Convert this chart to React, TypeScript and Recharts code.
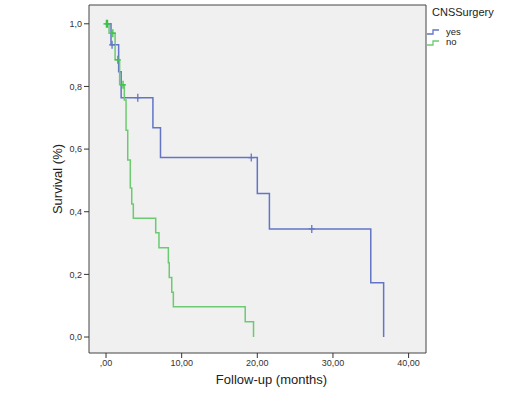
import {
  ComposedChart,
  Line,
  Scatter,
  XAxis,
  YAxis,
  ReferenceArea,
} from "recharts";

// Kaplan-Meier steps (months, survival)
const yesCurve = [
  { t: 0, s: 1.0 },
  { t: 0.66, s: 0.933 },
  { t: 1.67, s: 0.847 },
  { t: 2.0, s: 0.764 },
  { t: 6.2, s: 0.668 },
  { t: 7.2, s: 0.573 },
  { t: 20.0, s: 0.458 },
  { t: 21.6, s: 0.345 },
  { t: 35.0, s: 0.173 },
  { t: 36.7, s: 0.0 },
];

const noCurve = [
  { t: 0, s: 1.0 },
  { t: 0.4, s: 0.97 },
  { t: 1.2, s: 0.885 },
  { t: 1.8, s: 0.805 },
  { t: 2.42, s: 0.757 },
  { t: 2.65, s: 0.66 },
  { t: 2.87, s: 0.565 },
  { t: 3.21, s: 0.476 },
  { t: 3.4, s: 0.425 },
  { t: 3.61, s: 0.379 },
  { t: 6.57, s: 0.333 },
  { t: 7.0, s: 0.285 },
  { t: 8.24, s: 0.237 },
  { t: 8.36, s: 0.19 },
  { t: 8.69, s: 0.143 },
  { t: 8.9, s: 0.097 },
  { t: 18.4, s: 0.049 },
  { t: 19.5, s: 0.0 },
];

// censored cases (+ marks)
const yesCensored = [
  { t: 0.8, s: 0.933 },
  { t: 4.2, s: 0.764 },
  { t: 19.2, s: 0.573 },
  { t: 27.2, s: 0.345 },
];

const noCensored = [
  { t: 0.05, s: 1.0 },
  { t: 0.2, s: 1.0 },
  { t: 0.9, s: 0.97 },
  { t: 1.55, s: 0.885 },
  { t: 2.25, s: 0.805 },
];

const xTicks = [0, 10, 20, 30, 40];
const yTicks = [0, 0.2, 0.4, 0.6, 0.8, 1.0];
const legendTitle = "CNSSurgery";
const groups = [
  { name: "yes", color: "#6275c6" },
  { name: "no", color: "#6ccb70" },
];

const X_MIN = -2.25;
const X_MAX = 42.3;
const Y_MIN = -0.051;
const Y_MAX = 1.06;

const fmtX = (v: number) =>
  v === 0 ? ",00" : v.toFixed(2).replace(".", ",");
const fmtY = (v: number) => v.toFixed(1).replace(".", ",");

// "+" censor mark
function Cross(props: any) {
  const { cx, cy, fill } = props;
  if (cx == null || cy == null) return null;
  return (
    <path
      d={`M${cx - 3},${cy}H${cx + 3}M${cx},${cy - 4}V${cy + 4}`}
      stroke={fill}
      strokeWidth={1.3}
      fill="none"
    />
  );
}

function LegendBox() {
  return (
    <div
      style={{
        position: "absolute",
        left: 432,
        top: 6,
        fontFamily: "Liberation Sans",
        color: "#222",
      }}
    >
      <div style={{ fontSize: 11, lineHeight: "13px", marginBottom: 7 }}>
        {legendTitle}
      </div>
      {groups.map((g) => (
        <div
          key={g.name}
          style={{ display: "flex", alignItems: "center", height: 10.5, marginLeft: -6 }}
        >
          <svg width={14} height={10} style={{ marginRight: 6 }}>
            <path
              d="M1,8H7V4H13"
              stroke={g.color}
              strokeWidth={1.3}
              fill="none"
            />
          </svg>
          <span style={{ fontSize: 9.5 }}>{g.name}</span>
        </div>
      ))}
    </div>
  );
}

export default function App() {
  return (
    <div
      style={{
        position: "absolute",
        left: 0,
        top: 0,
        width: 523,
        height: 407,
        background: "#fff",
      }}
    >
      <ComposedChart
        width={523}
        height={407}
        margin={{ top: 5, right: 97, left: 0, bottom: 0 }}
      >
        <XAxis
          dataKey="t"
          type="number"
          domain={[X_MIN, X_MAX]}
          ticks={xTicks}
          tickFormatter={fmtX}
          allowDataOverflow
          height={54}
          axisLine={false}
          tickSize={5}
          stroke="#333"
          tick={{ fontSize: 9, fill: "#333", fontFamily: "Liberation Sans" }}
          label={{
            value: "Follow-up (months)",
            position: "insideBottom",
            offset: 23,
            dx: 14,
            style: { fontSize: 13, fill: "#222", fontFamily: "Liberation Sans" },
          }}
        />
        <YAxis
          type="number"
          domain={[Y_MIN, Y_MAX]}
          ticks={yTicks}
          tickFormatter={fmtY}
          allowDataOverflow
          width={89}
          axisLine={false}
          tickSize={5}
          stroke="#333"
          tick={{ fontSize: 9, fill: "#333", fontFamily: "Liberation Sans" }}
          label={{
            value: "Survival (%)",
            angle: -90,
            position: "center",
            dx: 13,
            style: { fontSize: 13, fill: "#222", fontFamily: "Liberation Sans" },
          }}
        />
        <ReferenceArea
          x1={X_MIN}
          x2={X_MAX}
          y1={Y_MIN}
          y2={Y_MAX}
          fill="#f0f0f0"
          fillOpacity={1}
          stroke="#444"
          strokeWidth={1}
        />
        <Line
          data={yesCurve}
          dataKey="s"
          name="yes"
          type="stepAfter"
          stroke="#6275c6"
          strokeWidth={1.5}
          dot={false}
          isAnimationActive={false}
        />
        <Line
          data={noCurve}
          dataKey="s"
          name="no"
          type="stepAfter"
          stroke="#6ccb70"
          strokeWidth={1.5}
          dot={false}
          isAnimationActive={false}
        />
        <Scatter
          data={yesCensored}
          dataKey="s"
          fill="#6275c6"
          shape={Cross}
          isAnimationActive={false}
        />
        <Scatter
          data={noCensored}
          dataKey="s"
          fill="#3fbf4a"
          shape={Cross}
          isAnimationActive={false}
        />
      </ComposedChart>
      <LegendBox />
    </div>
  );
}
